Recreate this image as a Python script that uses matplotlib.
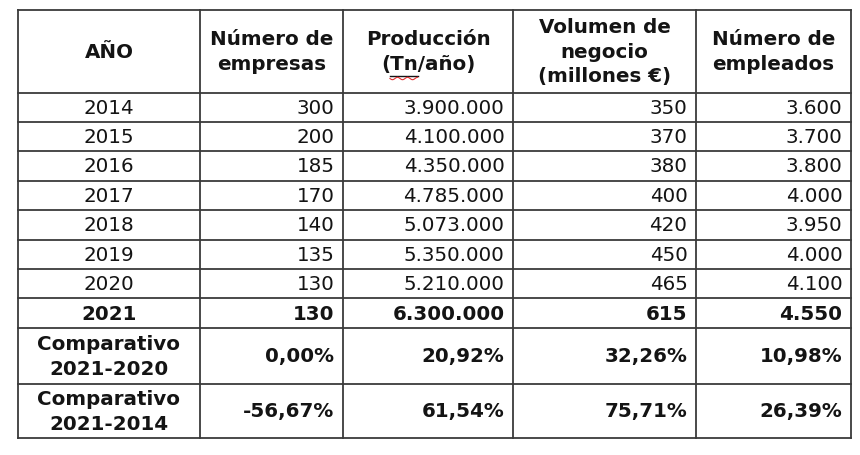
import matplotlib
matplotlib.use("Agg")
import matplotlib.pyplot as plt
import numpy as np

# datos de la tabla
anios = ["2014", "2015", "2016", "2017", "2018", "2019", "2020", "2021"]
num_empresas = ["300", "200", "185", "170", "140", "135", "130", "130"]
produccion = ["3.900.000", "4.100.000", "4.350.000", "4.785.000",
              "5.073.000", "5.350.000", "5.210.000", "6.300.000"]
volumen = ["350", "370", "380", "400", "420", "450", "465", "615"]
empleados = ["3.600", "3.700", "3.800", "4.000", "3.950", "4.000", "4.100", "4.550"]

comp_etiquetas = ["Comparativo\n2021-2020", "Comparativo\n2021-2014"]
comp_empresas = ["0,00%", "-56,67%"]
comp_produccion = ["20,92%", "61,54%"]
comp_volumen = ["32,26%", "75,71%"]
comp_empleados = ["10,98%", "26,39%"]

cabeceras = ["AÑO", "Número de\nempresas", "Producción\n(Tn/año)",
             "Volumen de\nnegocio\n(millones €)", "Número de\nempleados"]

# geometria en pixeles
col_x = [18, 200, 343, 513, 696, 851]
fila_y = [10, 92.5] + [92.5 + 29.4 * (i + 1) for i in range(8)] + [383.7, 438.3]

fig = plt.figure(figsize=(8.6, 4.55), dpi=100)
ax = fig.add_axes([0, 0, 1, 1])
ax.set_xlim(0, 860)
ax.set_ylim(455, 0)
ax.axis("off")

color_linea = "#3a3a3a"
color_texto = "#141414"
fs = 14.3
pad = 8.5

# lineas de la tabla
for y in fila_y:
    ax.plot([col_x[0], col_x[-1]], [y, y], color=color_linea, lw=1.3, solid_capstyle="projecting")
for x in col_x:
    ax.plot([x, x], [fila_y[0], fila_y[-1]], color=color_linea, lw=1.3, solid_capstyle="projecting")

# cabecera
for j, txt in enumerate(cabeceras):
    cx = (col_x[j] + col_x[j + 1]) / 2
    cy = (fila_y[0] + fila_y[1]) / 2 + 1
    ax.text(cx, cy, txt, ha="center", va="center", fontsize=fs, fontweight="bold",
            color=color_texto, linespacing=1.38)

# filas de datos
columnas = [num_empresas, produccion, volumen, empleados]
for i in range(len(anios)):
    cy = (fila_y[i + 1] + fila_y[i + 2]) / 2 + 1
    peso = "bold" if i == len(anios) - 1 else "normal"
    ax.text((col_x[0] + col_x[1]) / 2, cy, anios[i], ha="center", va="center",
            fontsize=fs, fontweight=peso, color=color_texto)
    for j, col in enumerate(columnas):
        ax.text(col_x[j + 2] - pad, cy, col[i], ha="right", va="center",
                fontsize=fs, fontweight=peso, color=color_texto)

# filas comparativas
comp_cols = [comp_empresas, comp_produccion, comp_volumen, comp_empleados]
for k in range(len(comp_etiquetas)):
    cy = (fila_y[9 + k] + fila_y[10 + k]) / 2 + 1
    ax.text((col_x[0] + col_x[1]) / 2, cy, comp_etiquetas[k], ha="center", va="center",
            fontsize=fs, fontweight="bold", color=color_texto, linespacing=1.42)
    for j, col in enumerate(comp_cols):
        ax.text(col_x[j + 2] - pad, cy, col[k], ha="right", va="center",
                fontsize=fs, fontweight="bold", color=color_texto)

# subrayado ondulado rojo bajo "Tn" (corrector ortografico)
fig.canvas.draw()
r = fig.canvas.get_renderer()
cx = (col_x[2] + col_x[3]) / 2
t_full = ax.text(cx, 0, "(Tn/año)", fontsize=fs, fontweight="bold", ha="center")
t_pre = ax.text(cx, 0, "(", fontsize=fs, fontweight="bold", ha="center")
t_tn = ax.text(cx, 0, "(Tn", fontsize=fs, fontweight="bold", ha="center")
w_full = t_full.get_window_extent(r).width
w_pre = t_pre.get_window_extent(r).width
w_tn = t_tn.get_window_extent(r).width
for t in (t_full, t_pre, t_tn):
    t.remove()
x0 = cx - w_full / 2 + w_pre
x1 = cx - w_full / 2 + w_tn
xs = np.linspace(x0, x1, 40)
ax.plot([x0, x1], [76, 76], color=color_texto, lw=1.0)
ax.plot(xs, 78.5 + 1.2 * np.sin((xs - x0) / 1.6), color="#e03030", lw=0.8)

fig.savefig("out.png", dpi=100, facecolor="white")
